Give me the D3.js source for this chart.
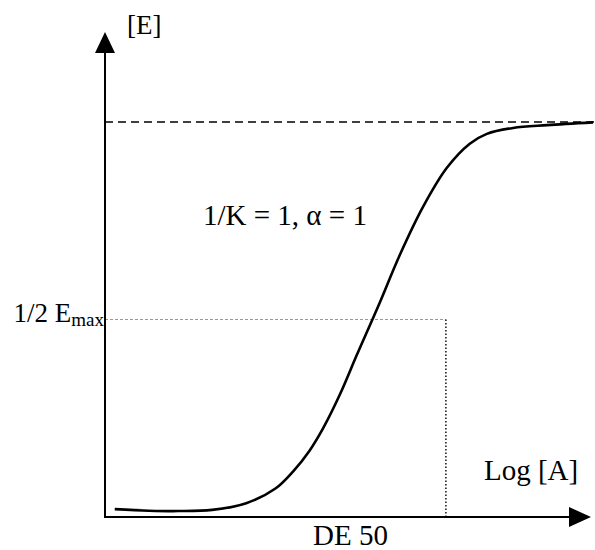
<!DOCTYPE html>
<html>
<head>
<meta charset="utf-8">
<script src="https://cdn.jsdelivr.net/npm/d3@7"></script>
<style>
  body { margin: 0; background: #fff; }
  svg text { font-family: "Liberation Serif", "Times New Roman", serif; fill: #000; }
</style>
</head>
<body>
<div id="chart"></div>
<script>
// dose-response curve (x: log[A] units 0-100, y: fraction of Emax)
var logA = [2, 9, 15, 22, 29, 35, 38.6, 42, 44.8, 48.3, 51.7, 54.8, 56.5, 60.6, 65.3, 70.2, 74.9, 78.4, 83.8, 90.8, 100.2];
var effect = [0.020, 0.016, 0.015, 0.018, 0.035, 0.072, 0.115, 0.168, 0.225, 0.312, 0.410, 0.497, 0.545, 0.665, 0.785, 0.884, 0.945, 0.970, 0.985, 0.992, 0.999];
var emax = 1;
var halfEmax = 0.5;
var de50 = 70;

var W = 595, H = 550;
var svg = d3.select("#chart").append("svg")
    .attr("width", W)
    .attr("height", H);

var x = d3.scaleLinear().domain([0, 100]).range([105, 592]);
var y = d3.scaleLinear().domain([0, 1]).range([517, 122]);

var data = logA.map(function(d, i) { return {x: d, y: effect[i]}; });

// Emax asymptote
svg.append("line")
    .attr("x1", x(0)).attr("x2", 595)
    .attr("y1", y(emax)).attr("y2", y(emax))
    .attr("stroke", "#000")
    .attr("stroke-width", 1.6)
    .attr("stroke-dasharray", "8,5");

// half Emax guide
svg.append("line")
    .attr("x1", x(0)).attr("x2", x(de50))
    .attr("y1", y(halfEmax)).attr("y2", y(halfEmax))
    .attr("stroke", "#999")
    .attr("stroke-width", 1)
    .attr("stroke-dasharray", "3,2");

// DE 50 drop line
svg.append("line")
    .attr("x1", x(de50)).attr("x2", x(de50))
    .attr("y1", y(halfEmax)).attr("y2", y(0))
    .attr("stroke", "#000")
    .attr("stroke-width", 1.4)
    .attr("stroke-dasharray", "1.5,2");

// curve
var lineGen = d3.line()
    .x(function(d) { return x(d.x); })
    .y(function(d) { return y(d.y); })
    .curve(d3.curveCatmullRom.alpha(0.5));

svg.append("path")
    .datum(data)
    .attr("d", lineGen)
    .attr("fill", "none")
    .attr("stroke", "#000")
    .attr("stroke-width", 2.6)
    .attr("stroke-linejoin", "round");

// axes with arrowheads
svg.append("line")
    .attr("x1", x(0)).attr("x2", x(0))
    .attr("y1", y(0) + 1).attr("y2", 50)
    .attr("stroke", "#000").attr("stroke-width", 2);
svg.append("path")
    .attr("d", "M" + x(0) + ",32 L" + (x(0) - 10) + ",53 L" + (x(0) + 10) + ",53 Z")
    .attr("fill", "#000");

svg.append("line")
    .attr("x1", x(0) - 1).attr("x2", 572)
    .attr("y1", y(0)).attr("y2", y(0))
    .attr("stroke", "#000").attr("stroke-width", 2);
svg.append("path")
    .attr("d", "M591," + y(0) + " L569," + (y(0) - 10) + " L569," + (y(0) + 10) + " Z")
    .attr("fill", "#000");

// labels
svg.append("text")
    .attr("x", 127).attr("y", 34)
    .style("font-size", "27px")
    .text("[E]");

var half = svg.append("text")
    .attr("x", 104).attr("y", 322)
    .attr("text-anchor", "end")
    .style("font-size", "27px");
half.append("tspan").text("1/2 E");
half.append("tspan")
    .attr("dy", 4)
    .style("font-size", "19px")
    .text("max");

svg.append("text")
    .attr("x", 203).attr("y", 225)
    .style("font-size", "29px")
    .text("1/K = 1, \u03b1 = 1");

svg.append("text")
    .attr("x", 484).attr("y", 480)
    .style("font-size", "29px")
    .text("Log [A]");

svg.append("text")
    .attr("x", 313).attr("y", 545)
    .style("font-size", "29px")
    .text("DE 50");
</script>
</body>
</html>
